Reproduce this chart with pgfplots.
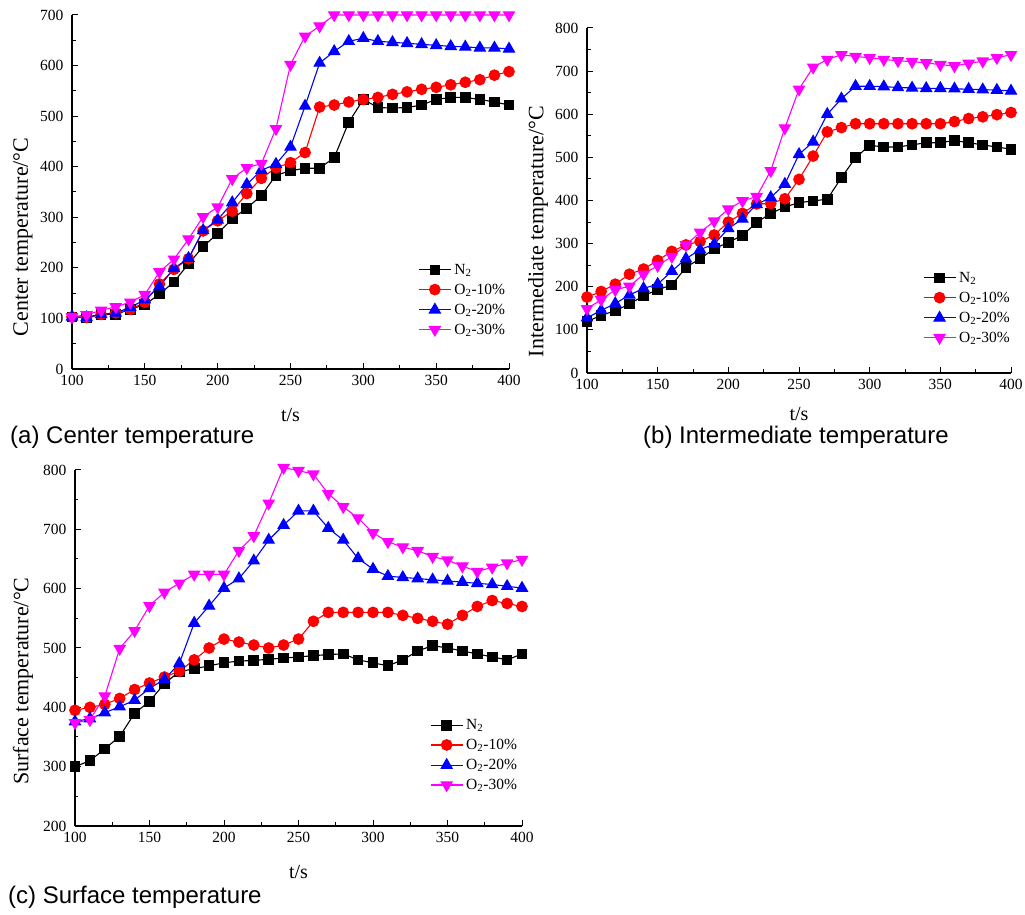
\documentclass[border=0pt]{standalone}
\usepackage{fontspec}
\setmainfont{Liberation Serif}
\newfontfamily\arial{Liberation Sans}
\usepackage{pgfplots}
\usepackage{pgfplotstable}
\pgfplotsset{compat=1.18}
\definecolor{mag}{RGB}{255,0,255}
\definecolor{pred}{RGB}{255,0,0}
\definecolor{pblue}{RGB}{0,0,255}

\pgfplotstableread{
t n2 o10 o20 o30
100 103 103 103 103
110 102 102 102 107
120 108 108 108 116
130 108 111 111 123
140 118 118 122 132
150 127 132 137 147
160 148 168 163 192
170 172 197 199 217
180 208 218 219 257
190 242 273 274 301
200 268 293 295 320
210 297 312 329 376
220 318 347 365 398
230 343 377 393 406
240 383 398 405 475
250 392 408 439 602
260 397 428 520 658
270 397 518 605 678
280 418 522 628 700
290 488 528 648 700
300 533 533 654 700
310 517 537 648 700
320 516 543 646 700
330 517 548 644 700
340 522 553 642 700
350 533 557 640 700
360 537 562 638 700
370 537 567 637 700
380 533 572 635 700
390 528 581 635 700
400 522 588 633 700
}\tabA

\pgfplotstableread{
t n2 o10 o20 o30
100 119 176 128 149
110 134 189 145 170
120 144 206 161 193
130 160 229 181 201
140 179 241 196 229
150 193 261 206 249
160 204 282 236 270
170 245 297 265 297
180 265 305 286 326
190 288 320 299 352
200 303 350 335 380
210 319 370 357 399
220 349 392 391 409
230 370 393 407 469
240 385 404 438 568
250 395 449 507 658
260 399 503 536 709
270 403 559 600 727
280 453 569 636 738
290 499 578 665 734
300 528 578 665 731
310 524 578 664 727
320 524 578 662 724
330 529 578 661 722
340 534 578 660 719
350 534 578 660 715
360 539 583 659 712
370 534 590 658 718
380 529 594 657 723
390 524 599 656 731
400 519 604 654 738
}\tabB

\pgfplotstableread{
t n2 o10 o20 o30
100 300 395 376 374
110 310 400 381 379
120 330 405 391 419
130 351 415 401 499
140 390 430 412 529
150 410 441 432 571
160 440 451 447 594
170 460 461 474 609
180 465 480 542 624
190 470 500 571 624
200 475 515 601 624
210 478 510 617 664
220 479 505 647 689
230 481 500 682 744
240 483 505 707 804
250 485 515 731 799
260 487 545 731 793
270 489 560 702 760
280 490 560 682 738
290 480 560 651 719
300 475 560 633 694
310 470 560 621 679
320 480 555 619 670
330 495 550 617 664
340 504 545 615 654
350 500 540 613 648
360 495 555 611 638
370 490 570 609 629
380 485 580 607 636
390 480 575 604 643
400 490 570 601 649
}\tabC

\pgfplotsset{
  myaxis/.style={
    scale only axis,
    axis x line=bottom, axis y line=left,
    axis line style={-, line width=1.3pt},
    tick align=inside,
    major tick length=6pt, minor tick length=3.5pt,
    every tick/.style={black, line width=1pt},
    xmin=100, xmax=400, xtick={100,150,...,400}, minor x tick num=1,
    minor y tick num=1,
    tick label style={font=\fontsize{15.5}{18}\selectfont},
    yticklabel style={xshift=-5pt},
    xticklabel style={yshift=-3pt},
    /pgf/number format/assume math mode=true,
    label style={font=\fontsize{22}{26}\selectfont},
    xlabel style={font=\fontsize{20}{22}\selectfont},
    xlabel={t/s},
    clip=false,
    legend cell align=left,
    legend style={draw=none, fill=none, font=\fontsize{15.5}{18}\selectfont,
      row sep=8pt, inner sep=0pt, anchor=north west,
      nodes={inner xsep=3pt, inner ysep=0pt}},
    legend image code/.code={\draw[mark repeat=2,mark phase=2] plot coordinates {(0pt,0pt)(16pt,0pt)(32pt,0pt)};},
  },
  sN/.style={black, line width=1.1pt, mark=square*, mark size=4.8pt, mark options={solid, fill=black}},
  sA/.style={pred, line width=1.1pt, mark=*, mark size=5.3pt, mark options={solid, fill=pred}},
  sB/.style={pblue, line width=1.1pt, mark=triangle*, mark size=6.3pt, mark options={solid, fill=pblue}},
  sC/.style={mag, line width=1.1pt, mark=triangle*, mark size=6.3pt, mark options={solid, fill=mag, rotate=180}},
}

\begin{document}
\begin{tikzpicture}
\path[use as bounding box] (0pt,0pt) rectangle (1025pt,915pt);

% (a)
\begin{axis}[myaxis, at={(72pt,546pt)}, anchor=south west,
  width=437pt, height=354pt,
  ymin=0, ymax=700, ytick={0,100,...,700},
  ylabel={Center temperature/\textdegree C},
  ylabel style={at={([xshift=-49pt]axis description cs:0,0.373)}, anchor=center},
  xlabel style={at={([yshift=-46pt]axis description cs:0.5,0)}, anchor=center},
  legend style={at={(axis description cs:0.792,0.297)}},
]
\addplot[sN] table[x=t,y=n2]{\tabA};
\addplot[sA] table[x=t,y=o10]{\tabA};
\addplot[sB] table[x=t,y=o20]{\tabA};
\addplot[sC] table[x=t,y=o30]{\tabA};
\legend{N\textsubscript{2},O\textsubscript{2}-10\%,O\textsubscript{2}-20\%,O\textsubscript{2}-30\%}
\end{axis}

% (b)
\begin{axis}[myaxis, at={(587pt,542pt)}, anchor=south west,
  width=424pt, height=345pt,
  ymin=0, ymax=800, ytick={0,100,...,800},
  ylabel={Intermediate temperature/\textdegree C},
  ylabel style={at={([xshift=-49pt]axis description cs:0,0.41)}, anchor=center},
  xlabel style={at={([yshift=-41pt]axis description cs:0.5,0)}, anchor=center},
  legend style={at={(axis description cs:0.792,0.293)}},
]
\addplot[sN] table[x=t,y=n2]{\tabB};
\addplot[sA] table[x=t,y=o10]{\tabB};
\addplot[sB] table[x=t,y=o20]{\tabB};
\addplot[sC] table[x=t,y=o30]{\tabB};
\legend{N\textsubscript{2},O\textsubscript{2}-10\%,O\textsubscript{2}-20\%,O\textsubscript{2}-30\%}
\end{axis}

% (c)
\begin{axis}[myaxis, at={(75pt,89pt)}, anchor=south west,
  width=447pt, height=356pt,
  ymin=200, ymax=800, ytick={200,300,...,800},
  ylabel={Surface temperature/\textdegree C},
  ylabel style={at={([xshift=-52pt]axis description cs:0,0.407)}, anchor=center},
  xlabel style={at={([yshift=-46pt]axis description cs:0.5,0)}, anchor=center},
  legend style={at={(axis description cs:0.794,0.30)}},
]
\addplot[sN] table[x=t,y=n2]{\tabC};
\addplot[sA] table[x=t,y=o10]{\tabC};
\addplot[sB] table[x=t,y=o20]{\tabC};
\addplot[sC] table[x=t,y=o30]{\tabC};
\legend{N\textsubscript{2},O\textsubscript{2}-10\%,O\textsubscript{2}-20\%,O\textsubscript{2}-30\%}
\end{axis}

\node[anchor=base west, font=\arial\fontsize{24}{28}\selectfont, inner sep=0pt] at (10pt,471pt) {(a) Center temperature};
\node[anchor=base west, font=\arial\fontsize{24}{28}\selectfont, inner sep=0pt] at (643pt,471pt) {(b) Intermediate temperature};
\node[anchor=base west, font=\arial\fontsize{24}{28}\selectfont, inner sep=0pt] at (8pt,11pt) {(c) Surface temperature};
\end{tikzpicture}
\end{document}
